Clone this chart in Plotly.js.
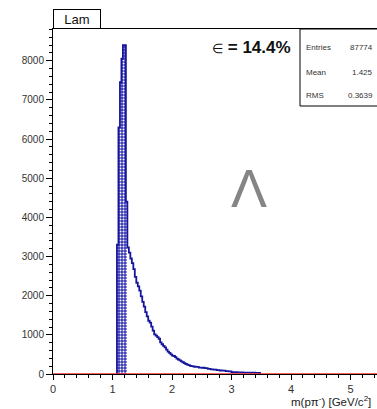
<!DOCTYPE html>
<html>
<head>
<meta charset="utf-8">
<script src="https://cdn.plot.ly/plotly-3.0.1.min.js"></script>
<style>
html,body{margin:0;padding:0;overflow:hidden;background:#fff;width:377px;height:409px;}
#chart{width:430px;height:409px;}
</style>
</head>
<body>
<div id="chart"></div>
<script>
// Histogram bin edges (GeV/c^2) and counts
const binEdges = [1.075,1.100,1.125,1.150,1.175,1.200,1.225,1.250,1.275,1.300,1.325,1.350,1.375,1.400,1.425,1.450,1.475,1.500,1.525,1.550,1.575,1.600,1.625,1.650,1.675,1.700,1.725,1.750,1.775,1.800,1.825,1.850,1.875,1.900,1.925,1.950,1.975,2.000,2.025,2.050,2.075,2.100,2.125,2.150,2.175,2.200,2.225,2.250,2.275,2.300,2.325,2.350,2.375,2.400,2.450,2.500,2.550,2.600,2.650,2.700,2.750,2.800,2.850,2.900,2.950,3.000,3.100,3.200,3.300,3.400,3.480];
const binCounts = [3300,6300,7450,8050,8400,8400,4400,3230,3100,2950,2830,2680,2480,2330,2240,2130,1980,1840,1720,1580,1470,1360,1310,1210,1110,1010,980,940,900,810,760,720,680,620,570,540,500,470,460,430,395,370,350,320,300,280,255,240,225,210,200,195,185,180,165,160,150,130,120,110,100,90,85,75,65,45,40,35,33,30];
// Number of leading bins drawn hatched (signal window)
const hatchedBins = 7;
const titleText = "Lam";
const statsLabels = ["Entries","Mean","RMS"];
const statsValues = ["87774","1.425","0.3639"];
const xTickVals = [0,1,2,3,4,5];
const yTickVals = [0,1000,2000,3000,4000,5000,6000,7000,8000];

// outline
const ox = [binEdges[0]].concat(binEdges);
const oy = [0].concat(binCounts).concat([0]);

// hatched bars
const hx=[], hw=[], hy=[];
for (let i=0;i<hatchedBins;i++){
  hx.push((binEdges[i]+binEdges[i+1])/2);
  hw.push(binEdges[i+1]-binEdges[i]);
  hy.push(binCounts[i]);
}

const blue = '#16169c';
const traces = [
  {type:'bar', x:hx, y:hy, width:hw, hoverinfo:'skip',
   marker:{color:'#4040c0', line:{width:0},
     pattern:{shape:'.', size:3, solidity:0.35, fgcolor:'#ffffff', bgcolor:'#3636b4'}}},
  {type:'scatter', mode:'lines', x:ox, y:oy, line:{shape:'hv', color:blue, width:1.8}, hoverinfo:'skip'}
];

const pxX = p => (p-53)/357;
const pxY = p => (374-p)/345;
const tf = {family:'Liberation Sans, Arial, sans-serif', size:10, color:'#333'};

const annotations = [
  {xref:'paper', yref:'paper', x:0, y:1, xanchor:'left', yanchor:'bottom', text:titleText,
   showarrow:false, bgcolor:'#fff', bordercolor:'#000', borderwidth:1, borderpad:1,
   width:44, height:16, font:{family:'Liberation Sans, Arial, sans-serif', size:13, color:'#111'}},
  {xref:'paper', yref:'paper', x:pxX(293), y:pxY(48), xanchor:'right', yanchor:'middle',
   text:'<span style="font-size:13px">∈</span> <b>= 14.4%</b>', showarrow:false,
   font:{family:'Liberation Sans, Arial, sans-serif', size:17, color:'#111'}},
  {xref:'paper', yref:'paper', x:pxX(249), y:pxY(188), xanchor:'center', yanchor:'middle',
   text:'Λ', showarrow:false,
   font:{family:'Liberation Sans, Arial, sans-serif', size:54, color:'#858585'}},
  {xref:'paper', yref:'paper', x:pxX(289), y:pxY(401), xanchor:'left', yanchor:'middle',
   text:'m(pπ<sup>-</sup>) [GeV/c<sup>2</sup>]', showarrow:false,
   font:{family:'Liberation Sans, Arial, sans-serif', size:11.5, color:'#222'}}
];
const statsY = [48,72,95];
for (let i=0;i<statsLabels.length;i++){
  annotations.push({xref:'paper', yref:'paper', x:pxX(304), y:pxY(statsY[i]), xanchor:'left', yanchor:'middle',
    text:statsLabels[i], showarrow:false, font:{family:'Liberation Sans, Arial, sans-serif', size:8, color:'#333'}});
  annotations.push({xref:'paper', yref:'paper', x:pxX(375), y:pxY(statsY[i]), xanchor:'right', yanchor:'middle',
    text:statsValues[i], showarrow:false, font:{family:'Liberation Sans, Arial, sans-serif', size:8, color:'#333'}});
}

const layout = {
  width:430, height:409,
  margin:{l:53, r:20, t:29, b:35},
  paper_bgcolor:'#fff', plot_bgcolor:'#fff',
  showlegend:false, bargap:0,
  xaxis:{range:[0,6], tickvals:xTickVals, ticks:'outside', ticklen:5, tickcolor:'#000', tickwidth:1,
    minor:{dtick:0.2, ticks:'outside', ticklen:3, tickcolor:'#000'},
    showgrid:false, zeroline:false, showline:true, linecolor:'#000', linewidth:1, mirror:true,
    tickfont:{family:'Liberation Sans, Arial, sans-serif', size:11, color:'#333'}},
  yaxis:{range:[0,8810], tickvals:yTickVals, ticks:'outside', ticklen:6, tickcolor:'#000', tickwidth:1,
    minor:{dtick:200, ticks:'outside', ticklen:3, tickcolor:'#000'},
    showgrid:false, zeroline:false, showline:true, linecolor:'#000', linewidth:1, mirror:true,
    tickfont:tf},
  shapes:[
    {type:'rect', xref:'paper', yref:'paper', x0:pxX(300), x1:1.1, y0:pxY(106), y1:1,
     line:{color:'#000', width:1}, fillcolor:'#fff', layer:'above'},
    {type:'line', xref:'paper', yref:'y', x0:0, x1:1, y0:0, y1:0, line:{color:'#ff2a2a', width:1.6}, layer:'above'}
  ],
  annotations:annotations
};

Plotly.newPlot('chart', traces, layout, {displayModeBar:false, staticPlot:true});
</script>
</body>
</html>
